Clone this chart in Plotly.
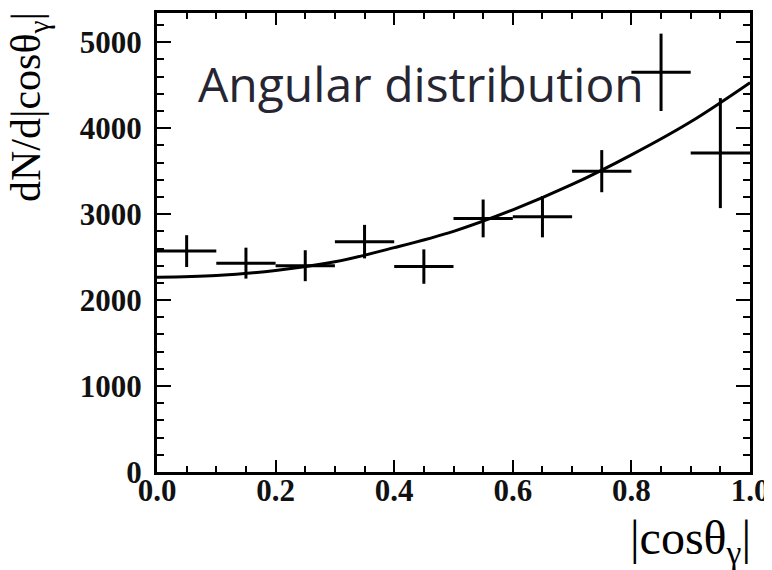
import plotly.graph_objects as go

# Data
bin_centers = [0.05, 0.15, 0.25, 0.35, 0.45, 0.55, 0.65, 0.75, 0.85, 0.95]
counts = [2570, 2430, 2400, 2680, 2390, 2950, 2970, 3500, 4650, 3710]
count_errors = [185, 180, 180, 195, 200, 220, 240, 245, 450, 640]
bin_half_width = [0.05] * 10

fit_x = [0.0, 0.1, 0.2, 0.3, 0.4, 0.5, 0.6, 0.7, 0.8, 0.9, 1.0]
fit_y = [2265, 2285, 2345, 2445, 2610, 2800, 3050, 3345, 3690, 4075, 4530]

x_ticks = [0.0, 0.2, 0.4, 0.6, 0.8, 1.0]
x_tick_labels = ["0.0", "0.2", "0.4", "0.6", "0.8", "1.0"]
y_ticks = [0, 1000, 2000, 3000, 4000, 5000]
y_tick_labels = ["0", "1000", "2000", "3000", "4000", "5000"]

fig = go.Figure()

fig.add_trace(go.Scatter(
    x=fit_x, y=fit_y, mode="lines",
    line=dict(color="black", width=3, shape="spline", smoothing=1.0),
    hoverinfo="skip", showlegend=False,
))

fig.add_trace(go.Scatter(
    x=bin_centers, y=counts, mode="markers",
    marker=dict(color="black", size=3),
    error_x=dict(type="data", array=bin_half_width, width=0, thickness=3, color="black"),
    error_y=dict(type="data", array=count_errors, width=0, thickness=3, color="black"),
    showlegend=False,
))

serif = "Liberation Serif"

axis_common = dict(
    showline=True, linewidth=3, linecolor="black", mirror="allticks",
    ticks="inside", tickwidth=1.5, tickcolor="black",
    showgrid=False, zeroline=False,
    tickfont=dict(family=serif, size=31, color="#111111", weight="bold"),
)

fig.update_xaxes(
    range=[0, 1], tickvals=x_ticks, ticktext=x_tick_labels, ticklen=12,
    ticklabelstandoff=-11,
    minor=dict(ticks="inside", dtick=0.05, ticklen=6, tickwidth=1.5, tickcolor="black", showgrid=False),
    **axis_common,
)
fig.update_yaxes(
    range=[0, 5340], tickvals=y_ticks, ticktext=y_tick_labels, ticklen=14,
    ticklabelstandoff=6,
    minor=dict(ticks="inside", dtick=200, ticklen=7, tickwidth=1.5, tickcolor="black", showgrid=False),
    **axis_common,
)

# The page body adds an 8px offset, so the figure is sized to fit the window.
fig.update_layout(
    width=764, height=562,
    margin=dict(l=149, r=22, t=2, b=98),
    paper_bgcolor="white", plot_bgcolor="white",
    annotations=[
        dict(text="Angular distribution", x=0.068, y=4300, xref="x", yref="y",
             xanchor="left", yanchor="middle", yshift=19, xshift=-1, showarrow=False,
             font=dict(family="Open Sans", size=48, color="#262633")),
        dict(text="|cos\u03b8<sub>\u03b3</sub>|", x=1, y=0, xref="paper", yref="paper",
             xanchor="right", yanchor="top", yshift=-37, xshift=3, showarrow=False,
             font=dict(family=serif, size=48, color="black")),
        dict(text="dN/d|cos\u03b8<sub>\u03b3</sub>|", x=0, y=1, xref="paper", yref="paper",
             xanchor="left", yanchor="top", xshift=-155, yshift=2, textangle=-90,
             borderpad=0, showarrow=False, font=dict(family=serif, size=42, color="black")),
    ],
)

fig.write_html("out.html")
